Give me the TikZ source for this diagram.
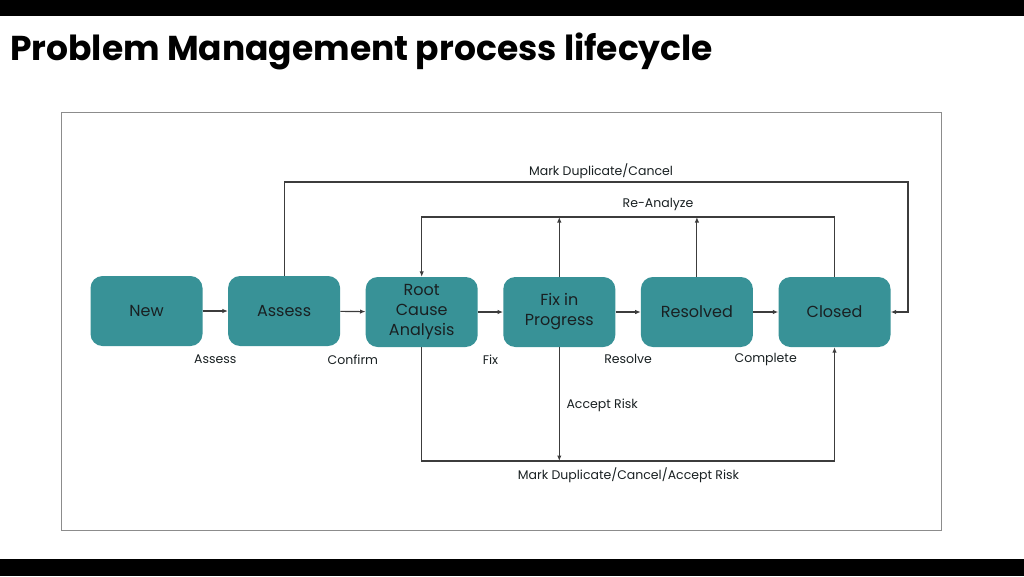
\documentclass[tikz,border=0pt]{standalone}
\usepackage{fontspec}
\setmainfont{Poppins}
\usetikzlibrary{arrows.meta}

\definecolor{stateteal}{RGB}{56,146,151}
\definecolor{textdark}{RGB}{25,32,34}
\definecolor{linegray}{RGB}{60,60,60}
\definecolor{framegray}{RGB}{140,140,140}

\begin{document}
\begin{tikzpicture}[x=1pt,y=-1pt,
	state/.style={fill=stateteal, rounded corners=12pt, minimum width=112pt,
		minimum height=70pt, inner sep=2pt, align=center, text=textdark,
		font=\fontsize{16}{20}\selectfont},
	flow/.style={draw=linegray, line width=1.1pt, -{Latex[length=5.5pt,width=4.5pt]}},
	lbl/.style={text=textdark, font=\fontsize{12.5}{15}\selectfont}]

	% page size and black bars
	\useasboundingbox (0,0) rectangle (1024,576);
	\fill[black] (0,0) rectangle (1024,16);
	\fill[black] (0,559) rectangle (1024,576);

	% title
	\node[anchor=base west, inner sep=0pt, font=\fontsize{34.5}{40}\selectfont\bfseries]
		(title) at (10,60) {Problem Management process lifecycle};

	% frame
	\draw[framegray, line width=1pt] (61,112) rectangle (941,530);

	% states
	\node[state] (New)      at (146.5,311) {New};
	\node[state] (Assess)   at (284.1,311) {Assess};
	\node[state] (RCA)      at (421.7,312) {Root\\Cause\\Analysis};
	\node[state] (Fix)      at (559.3,312) {Fix in\\Progress};
	\node[state] (Resolved) at (696.9,312) {Resolved};
	\node[state] (Closed)   at (834.5,312) {Closed};

	% main flow
	\draw[flow] (New) -- node[lbl, yshift=-48pt] (lAssess) {Assess} (Assess);
	\draw[flow] (Assess) -- node[lbl, yshift=-48pt] (lConfirm) {Confirm} (RCA);
	\draw[flow] (RCA) -- node[lbl, yshift=-48pt] (lFix) {Fix} (Fix);
	\draw[flow] (Fix) -- node[lbl, yshift=-47pt] (lResolve) {Resolve} (Resolved);
	\draw[flow] (Resolved) -- node[lbl, yshift=-47pt] (lComplete) {Complete} (Closed);

	% mark duplicate / cancel loop
	\coordinate (mdcCorner) at (908,182);
	\draw[flow] (Assess.north) |- (mdcCorner) |- (Closed.east);
	\node[lbl] (lMdc) at (601,171) {Mark Duplicate/Cancel};

	% re-analyze loop
	\coordinate (raCorner) at (421.7,217);
	\draw[flow] (Closed.north) |- (raCorner) -- (RCA.north);
	\draw[flow] (Fix.north) -- (Fix.north |- raCorner);
	\draw[flow] (Resolved.north) -- (Resolved.north |- raCorner);
	\node[lbl] (lRa) at (658,204) {Re-Analyze};

	% lower loop
	\coordinate (botCorner) at (834.5,461);
	\draw[flow] (RCA.south) |- (botCorner) -- (Closed.south);
	\draw[flow] (Fix.south) -- (Fix.south |- botCorner);
	\node[lbl, anchor=west] (lRisk) at (563,405) {Accept Risk};
	\node[lbl] (lMdcr) at (628.5,475) {Mark Duplicate/Cancel/Accept Risk};

\end{tikzpicture}
\end{document}
